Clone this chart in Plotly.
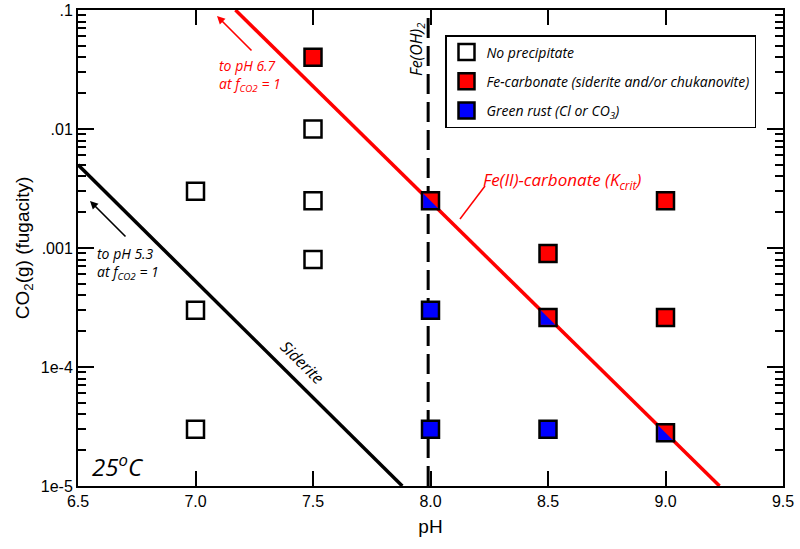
import plotly.graph_objects as go

# ---------------- data ----------------
ph_none = [7.0, 7.0, 7.0, 7.5, 7.5, 7.5]
f_none = [3e-3, 3e-4, 3e-5, 1e-2, 2.5e-3, 8e-4]

ph_fecarb = [7.5, 8.5, 9.0, 9.0]
f_fecarb = [4e-2, 9e-4, 2.5e-3, 2.6e-4]

ph_gr = [8.0, 8.0, 8.5]
f_gr = [3e-4, 3e-5, 3e-5]

ph_both = [8.0, 8.5, 9.0]
f_both = [2.5e-3, 2.6e-4, 2.8e-5]

siderite_ph = [6.5, 7.88]
siderite_f = [5e-3, 1e-5]
kcrit_ph = [7.17, 9.23]
kcrit_f = [0.1, 1e-5]
feoh2_ph = [7.99, 7.99]
feoh2_f = [1e-5, 0.1]

x_tickvals = [6.5, 7.0, 7.5, 8.0, 8.5, 9.0, 9.5]
x_ticktext = ["6.5", "7.0", "7.5", "8.0", "8.5", "9.0", "9.5"]
y_tickvals = [1e-5, 1e-4, 1e-3, 1e-2, 1e-1]
y_ticktext = ["1e-5", "1e-4", ".001", ".01", ".1"]
y_minor = [m * 10.0 ** e for e in range(-5, -1) for m in range(2, 10)]

# ---------------- layout geometry (pixels) ----------------
W, H = 800, 549
ML, MR, MT, MB = 78, 17, 10, 63
PW, PH = W - ML - MR, H - MT - MB


def px(x):
    return (x - ML) / PW


def py(y):
    return (H - MB - y) / PH


ANN_FONT = "Open Sans"
MS = 17
ML_W = 2.5

fig = go.Figure()

fig.add_trace(go.Scatter(x=siderite_ph, y=siderite_f, mode="lines",
                         line=dict(color="black", width=3.5), showlegend=False, hoverinfo="skip"))
fig.add_trace(go.Scatter(x=kcrit_ph, y=kcrit_f, mode="lines",
                         line=dict(color="#ff0000", width=3.5), showlegend=False, hoverinfo="skip"))
fig.add_trace(go.Scatter(x=feoh2_ph, y=feoh2_f, mode="lines",
                         line=dict(color="black", width=3, dash="20px,8px"), showlegend=False, hoverinfo="skip"))

fig.add_trace(go.Scatter(x=ph_none, y=f_none, mode="markers", name="<i>No precipitate</i>",
                         legendgroup="a",
                         marker=dict(symbol="square", size=MS, color="white", line=dict(color="black", width=ML_W))))
fig.add_trace(go.Scatter(x=ph_fecarb, y=f_fecarb, mode="markers",
                         name="<i>Fe-carbonate (siderite and/or chukanovite)</i>", legendgroup="b",
                         marker=dict(symbol="square", size=MS, color="#ff0000", line=dict(color="black", width=ML_W))))
fig.add_trace(go.Scatter(x=ph_gr, y=f_gr, mode="markers",
                         name="<i>Green rust (Cl or CO<sub>3</sub>)</i>", legendgroup="c",
                         marker=dict(symbol="square", size=MS, color="#0000ff", line=dict(color="black", width=ML_W))))
fig.add_trace(go.Scatter(x=ph_both, y=f_both, mode="markers", showlegend=False,
                         marker=dict(symbol="square", size=MS, color="#ff0000", line=dict(color="black", width=ML_W))))

# blue lower-left halves of the split markers
s = MS / 2 - ML_W / 2
shapes = []
for xv, yv in zip(ph_both, f_both):
    shapes.append(dict(type="path", xref="x", yref="y", xsizemode="pixel", ysizemode="pixel",
                       xanchor=xv, yanchor=yv,
                       path=f"M{-s},{s} L{-s},{-s} L{s},{-s} Z",
                       fillcolor="#0000ff", line=dict(width=0), layer="above"))

# red leader line for K_crit label
shapes.append(dict(type="line", xref="paper", yref="paper",
                   x0=px(460), y0=py(219), x1=px(485), y1=py(186),
                   line=dict(color="#ff0000", width=1.5)))


def ann(x, y, text, size, color="black", xanchor="center", angle=0, align="center"):
    return dict(x=px(x), y=py(y), xref="paper", yref="paper", text=text, textangle=angle,
                xanchor=xanchor, yanchor="middle", align=align, showarrow=False,
                font=dict(family=ANN_FONT, size=size, color=color))


annotations = [
    ann(416, 50, "<i>Fe(OH)<sub>2</sub></i>", 16, angle=-90),
    ann(481, 181, "<i>Fe(II)-carbonate (K<sub>crit</sub>)</i>", 17, color="#ff0000", xanchor="left"),
    ann(302, 362, "<i>Siderite</i>", 16, angle=44.5),
    ann(95, 263, "<i>to pH 5.3<br>at f<sub>CO2</sub> = 1</i>", 14, xanchor="left", align="left"),
    ann(217, 76, "<i>to pH 6.7<br>at f<sub>CO2</sub> = 1</i>", 14, color="#ff0000", xanchor="left", align="left"),
    ann(90, 465, "<i>25<sup>o</sup>C</i>", 24, xanchor="left"),
    # arrows
    dict(x=px(90), y=py(201), xref="paper", yref="paper", ax=37, ay=37, text="",
         showarrow=True, arrowhead=2, arrowsize=1, arrowwidth=1.6, arrowcolor="black"),
    dict(x=px(217), y=py(16), xref="paper", yref="paper", ax=36, ay=36, text="",
         showarrow=True, arrowhead=2, arrowsize=1, arrowwidth=1.6, arrowcolor="#ff0000"),
]

fig.update_layout(
    width=W, height=H,
    margin=dict(l=ML, r=MR, t=MT, b=MB),
    plot_bgcolor="white", paper_bgcolor="white",
    shapes=shapes, annotations=annotations,
    legend=dict(x=px(445), y=py(35), xanchor="left", yanchor="top",
                bordercolor="black", borderwidth=1.5, bgcolor="white",
                font=dict(family=ANN_FONT, size=14, color="black"),
                tracegroupgap=8),
    xaxis=dict(range=[6.5, 9.5], tickmode="array", tickvals=x_tickvals, ticktext=x_ticktext,
               ticks="inside", ticklen=15, tickwidth=1.5, tickcolor="black",
               showline=True, linewidth=2, linecolor="black", mirror="ticks",
               showgrid=False, zeroline=False, automargin=False,
               tickfont=dict(family="Liberation Sans", size=16, color="black"),
               title=dict(text="pH", font=dict(family="Liberation Sans", size=19, color="black"), standoff=10)),
    yaxis=dict(type="log", range=[-5, -1], tickmode="array", tickvals=y_tickvals, ticktext=y_ticktext,
               ticks="inside", ticklen=16, tickwidth=1.5, tickcolor="black",
               minor=dict(tickmode="array", tickvals=y_minor, ticks="inside", ticklen=8,
                          tickwidth=1.5, tickcolor="black", showgrid=False),
               showline=True, linewidth=2, linecolor="black", mirror="ticks",
               showgrid=False, zeroline=False, automargin=False,
               tickfont=dict(family="Liberation Sans", size=16, color="black"),
               title=dict(text="CO<sub>2</sub>(g) (fugacity)",
                          font=dict(family="Liberation Sans", size=19, color="black"), standoff=6)),
)

fig.write_html("out.html", config={"displayModeBar": False},
               post_script="document.body.style.margin='0';document.body.style.overflow='hidden';")
